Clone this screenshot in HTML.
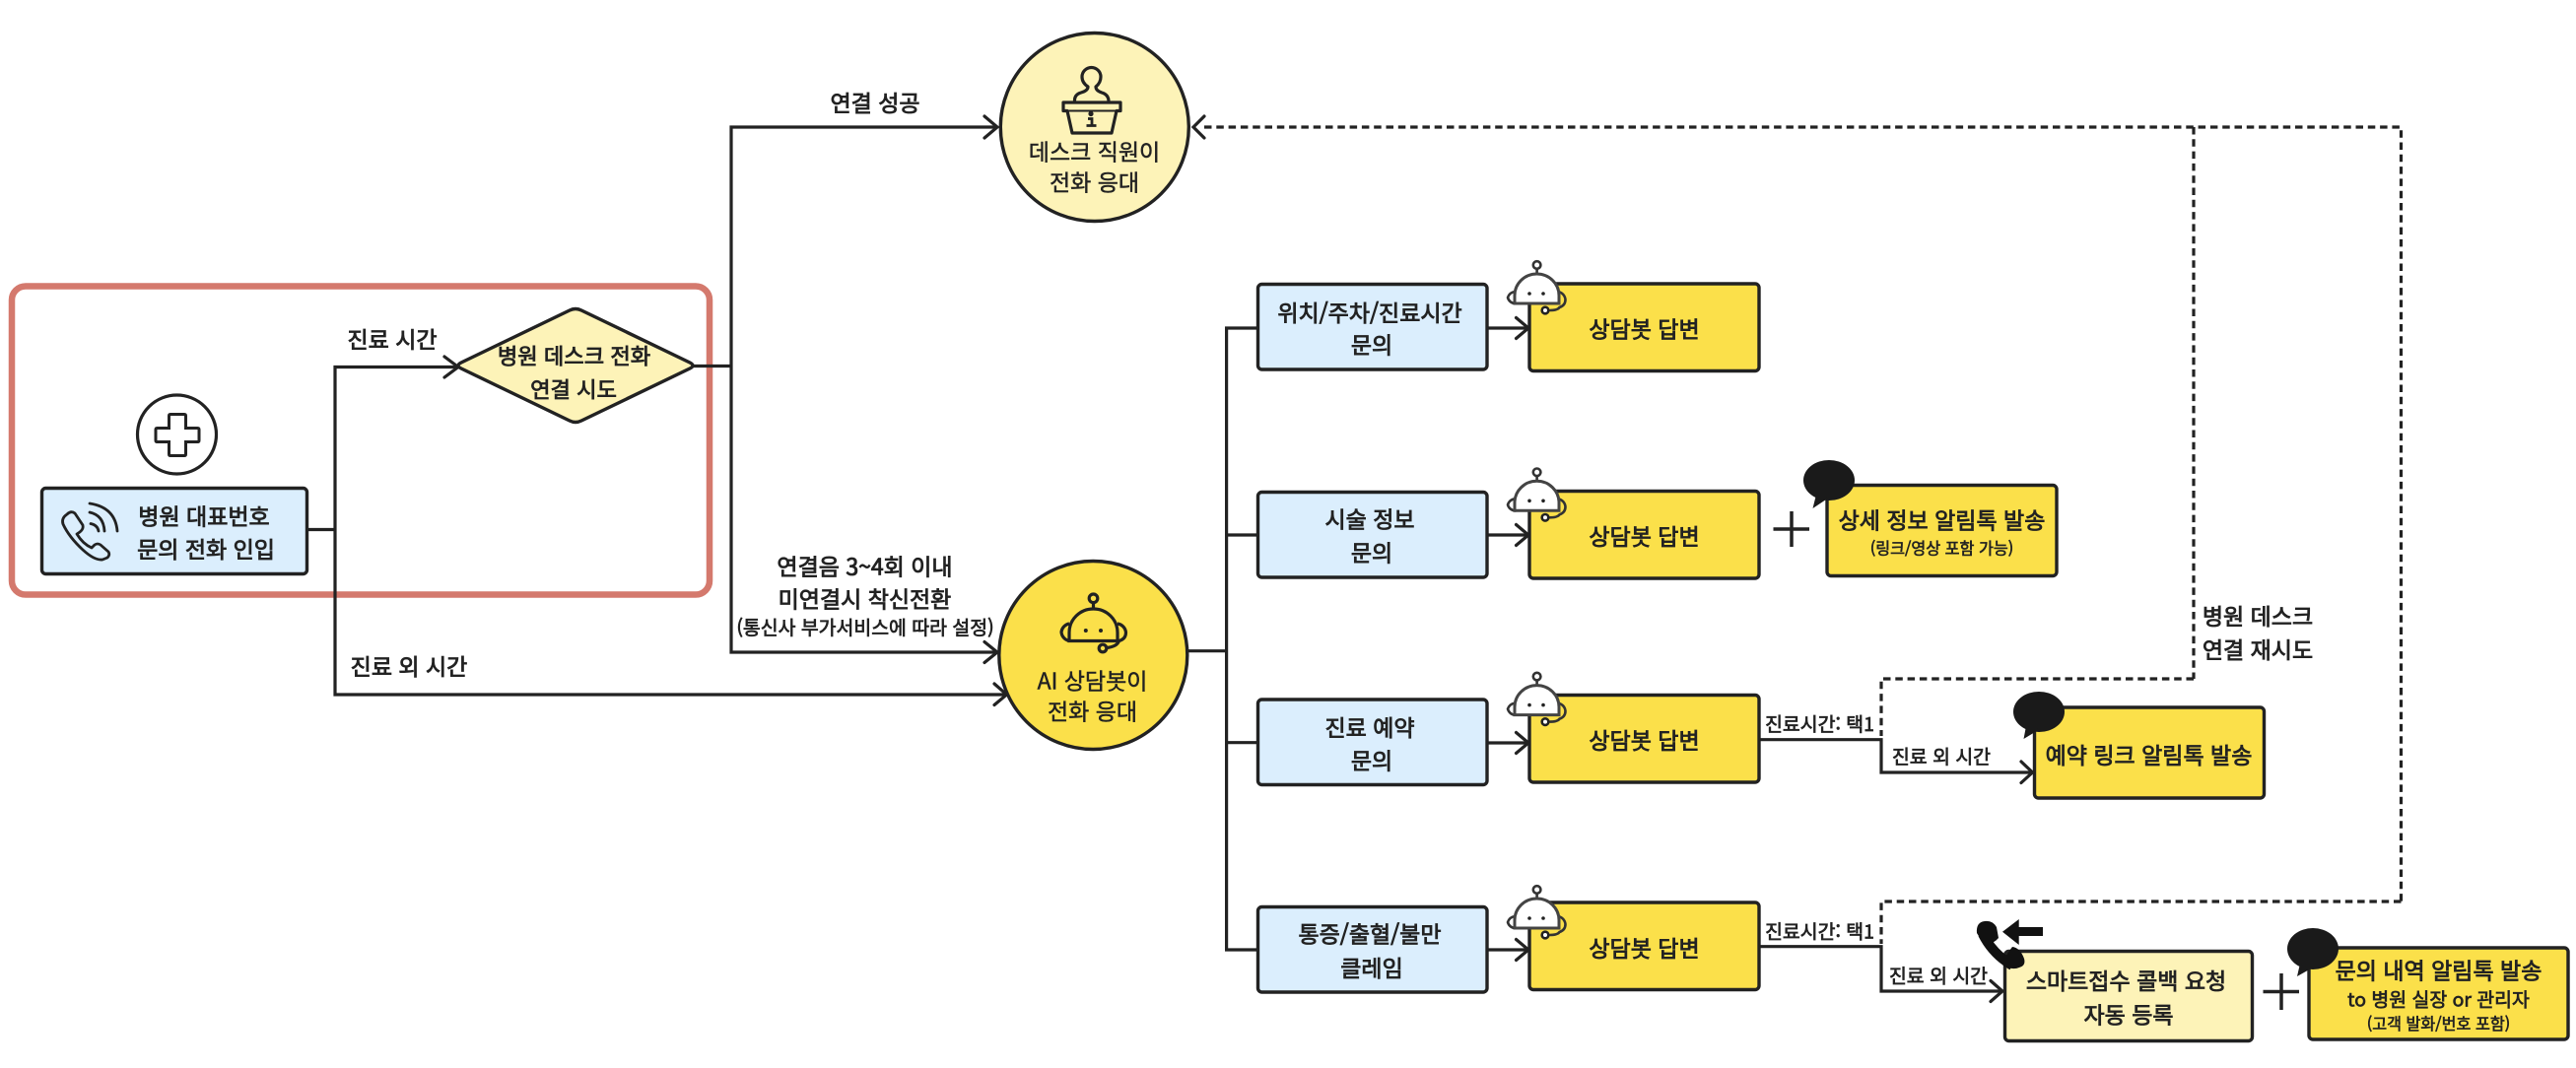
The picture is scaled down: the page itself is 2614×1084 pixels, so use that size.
<!DOCTYPE html>
<html lang="ko"><head><meta charset="utf-8"><title>Hospital call flow</title>
<style>
html,body{margin:0;padding:0;background:#fff;width:2614px;height:1084px;overflow:hidden}
svg{display:block}
text{font-family:"Liberation Sans","Noto Sans CJK KR",sans-serif;fill:#222;text-anchor:middle}
.h{font-family:"Noto Sans CJK KR","Liberation Sans",sans-serif;font-size:23px;font-weight:400;stroke:#222;stroke-width:.85px}
.dm{font-size:22.2px}
.s{font-family:"Noto Sans CJK KR","Liberation Sans",sans-serif;font-size:19.4px;font-weight:400;stroke:#222;stroke-width:.7px}
.t{font-family:"Noto Sans CJK KR","Liberation Sans",sans-serif;font-size:16.2px;font-weight:400;stroke:#222;stroke-width:.6px}
.r{font-family:"Noto Sans CJK KR","Liberation Sans",sans-serif;font-size:23px;font-weight:400;stroke:#222;stroke-width:.45px}
.l{fill:none;stroke:#222;stroke-width:3.2}
.a{fill:none;stroke:#222;stroke-width:3.2;stroke-linecap:round;stroke-linejoin:miter}
.d{fill:none;stroke:#222;stroke-width:3.2;stroke-dasharray:7.5 4.8}
.blue{fill:#dbeefd;stroke:#222;stroke-width:3.4}
.yel{fill:#fbe04a;stroke:#222;stroke-width:3.4}
.cream{fill:#fdf3b8;stroke:#222;stroke-width:3.4}
</style></head><body>
<svg width="2614" height="1084" viewBox="0 0 2614 1084" xmlns="http://www.w3.org/2000/svg">
<defs>
<g id="bot">
  <circle cx="1559.6" cy="269" r="3.8" fill="#fff" stroke="#333" stroke-width="2.6"/>
  <path d="M1559.6 273V279" stroke="#333" stroke-width="2.6" fill="none"/>
  <path d="M1537 296a9 9 0 0 0 -7 6a8 8 0 0 0 7 6z" fill="#fff" stroke="#333" stroke-width="2.6"/>
  <path d="M1581 296a9 9 0 0 1 7.500 8q0 6 -6 8q-2 3 -10 3" fill="none" stroke="#333" stroke-width="2.6"/>
  <path d="M1537 308V300a22.500 22 0 0 1 45 0V308z" fill="#fff" stroke="#444" stroke-width="3"/>
  <circle cx="1552" cy="298" r="1.800" fill="#222"/><circle cx="1566" cy="298" r="1.800" fill="#222"/>
  <circle cx="1568" cy="315" r="3.300" fill="#fff" stroke="#222" stroke-width="2.6"/>
</g>
</defs>

<!-- highlight -->
<rect x="12" y="290.500" width="708" height="313" rx="14" fill="none" stroke="#d4796d" stroke-width="6.500"/>

<!-- connectors -->
<path class="l" d="M311 537.500H340M465 372.500H340V705H1021"/>
<path class="a" d="M451 362L465 372.500L451 383"/>
<path class="a" d="M1009 694L1021.500 705L1009 715.500"/>
<path class="l" d="M704 371.500H742M1012 129H742V662H1012"/>
<path class="a" d="M999 118L1012 129L999 140"/>
<path class="a" d="M999 651.500L1012 662L999 672.500"/>
<path class="l" d="M1206 660.700H1244.600M1275 333H1244.600V964H1275M1244.600 543H1275M1244.600 753.700H1275"/>
<path class="l" d="M1509 333H1550M1509 543H1550M1509 754H1550M1509 964H1550"/>
<path class="a" d="M1538.500 322.500L1551 333L1538.500 343.500"/>
<path class="a" d="M1538.500 532.500L1551 543L1538.500 553.500"/>
<path class="a" d="M1538.500 743.500L1551 754L1538.500 764.500"/>
<path class="a" d="M1538.500 953.500L1551 964L1538.500 974.500"/>
<path class="l" d="M1785 750.700H1909V784H2062"/>
<path class="a" d="M2051 773L2062.500 784L2051 794.500"/>
<path class="l" d="M1785 960.700H1909V1006H2032"/>
<path class="a" d="M2020 995.500L2032 1006L2020 1016.500"/>
<path class="d" d="M2226 689H1909V747"/>
<path class="d" d="M2436.500 915H1909V958"/>
<path class="d" d="M1222 129H2436.500V915"/>
<path class="d" d="M2226 129V689"/>
<path class="a" d="M1222 118L1211 129L1222 140"/>

<!-- left -->
<circle cx="179.500" cy="441" r="40" fill="#fff" stroke="#222" stroke-width="3.200"/>
<path d="M173 420.500h14q1.500 0 1.500 1.500v12.500h12q1.500 0 1.500 1.500v11q0 1.500 -1.500 1.500h-12v12.500q0 1.500 -1.500 1.500h-14q-1.500 0 -1.500 -1.500v-12.500h-12q-1.500 0 -1.500 -1.500v-11q0 -1.500 1.500 -1.500h12v-12.500q0 -1.500 1.500 -1.500z" fill="#fff" stroke="#222" stroke-width="3"/>
<rect class="blue" x="42.500" y="495.500" width="269" height="87" rx="4"/>
<g fill="none" stroke="#222" stroke-width="2.800" stroke-linecap="round" stroke-linejoin="round">
  <path d="M68 522Q72 518 76 521L84 533Q85 537 81 540L78 542Q84 552 93 556L96 553Q99 551 102 553L110 560Q112 563 109 566L104 568Q96 569 84 558Q70 545 64 532Q62 526 68 522Z"/>
  <path d="M91 511Q117 515 119 539M91 520Q105 523 106 539M92 531.500Q99 533 100 539"/>
</g>
<text class="h" x="207" y="532.500">병원 대표번호</text>
<text class="h" x="209" y="566">문의 전화 인입</text>
<path class="cream" d="M468 368L578 315Q584 312 590 315L700 368Q706 371 700 374L590 427Q584 430 578 427L468 374Q462 371 468 368Z"/>
<text class="h dm" x="582.500" y="369.500">병원 데스크 전화</text>
<text class="h dm" x="582" y="403.500">연결 시도</text>
<text class="h" x="398" y="353">진료 시간</text>
<text class="h" x="415" y="685">진료 외 시간</text>
<text class="h" x="888" y="113">연결 성공</text>
<text class="h" x="877.500" y="583.500">연결음 3~4회 이내</text>
<text class="h" x="877.500" y="616.500">미연결시 착신전환</text>
<text class="s" x="878" y="644">(통신사 부가서비스에 따라 설정)</text>

<!-- desk circle -->
<circle class="cream" cx="1110.800" cy="129" r="95.500"/>
<g fill="none" stroke="#222" stroke-width="3.200" stroke-linejoin="round">
  <path d="M1090.500 103Q1090 96 1097 94Q1104 92 1104 88Q1098 84 1098 78A9.500 9.500 0 0 1 1117 78Q1117 84 1112 88Q1112 92 1118 94Q1125 96 1125 103"/>
  <path d="M1079 104H1137V112.500H1133L1128 135H1088L1083 112.500H1079Z"/>
  <path d="M1083 112.500H1133" stroke-width="2"/>
</g>
<circle cx="1107" cy="115.500" r="2.600" fill="#222"/>
<path d="M1104 120.500H1108V127.500M1102.500 127.500H1112.500" fill="none" stroke="#222" stroke-width="2.800"/>
<text class="r" x="1110.500" y="162.500">데스크 직원이</text>
<text class="r" x="1110.500" y="193.500">전화 응대</text>

<!-- AI circle -->
<circle class="yel" cx="1109.300" cy="665" r="95.500"/>
<g fill="none" stroke="#222" stroke-width="3.200">
  <circle cx="1109.500" cy="607.300" r="4.300"/>
  <path d="M1109.500 612V618"/>
  <path d="M1085 650.500V642a24.500 24 0 0 1 49 0V650.500Z"/>
  <path d="M1085 633a10 10 0 0 0 -8 8.500a10 10 0 0 0 8 9M1134 633a10 10 0 0 1 8.500 9q0 6.500 -7 8.500q-2 6 -13 7"/>
  <circle cx="1119" cy="658" r="3.800"/>
</g>
<circle cx="1101.800" cy="640" r="2" fill="#222"/><circle cx="1117" cy="640" r="2" fill="#222"/>
<text class="r" x="1108.500" y="699.500">AI 상담봇이</text>
<text class="r" x="1108.500" y="730.500">전화 응대</text>

<!-- blue boxes -->
<rect class="blue" x="1276.500" y="288.500" width="232.500" height="86.500" rx="4"/>
<rect class="blue" x="1276.500" y="499.500" width="232.500" height="86.500" rx="4"/>
<rect class="blue" x="1276.500" y="710" width="232.500" height="86.500" rx="4"/>
<rect class="blue" x="1276.500" y="920.500" width="232.500" height="86.500" rx="4"/>
<text class="h" x="1390" y="326">위치/주차/진료시간</text>
<text class="h" x="1392" y="358.500">문의</text>
<text class="h" x="1390" y="535.500">시술 정보</text>
<text class="h" x="1392" y="569.500">문의</text>
<text class="h" x="1390" y="747">진료 예약</text>
<text class="h" x="1392" y="780.500">문의</text>
<text class="h" x="1390" y="956.500">통증/출혈/불만</text>
<text class="h" x="1392" y="991">클레임</text>

<!-- yellow answer boxes -->
<rect class="yel" x="1552" y="288" width="233" height="88.500" rx="4"/>
<rect class="yel" x="1552" y="498.500" width="233" height="88.500" rx="4"/>
<rect class="yel" x="1552" y="705.500" width="233" height="88.500" rx="4"/>
<rect class="yel" x="1552" y="916" width="233" height="88.500" rx="4"/>
<use href="#bot"/>
<use href="#bot" y="210.300"/>
<use href="#bot" y="417.600"/>
<use href="#bot" y="634"/>
<text class="h" x="1668.500" y="342.500">상담봇 답변</text>
<text class="h" x="1668.500" y="553">상담봇 답변</text>
<text class="h" x="1668.500" y="760">상담봇 답변</text>
<text class="h" x="1668.500" y="971">상담봇 답변</text>

<!-- detail box -->
<path d="M1799.500 537H1836M1818 519V555" stroke="#222" stroke-width="3.500" fill="none"/>
<rect class="yel" x="1854" y="492.500" width="233" height="92" rx="4"/>
<ellipse cx="1856" cy="487.500" rx="26" ry="20.500" fill="#1a1a1a"/>
<path d="M1843 502L1839.500 516L1856 505Z" fill="#1a1a1a"/>
<text class="h" x="1970.500" y="536.500">상세 정보 알림톡 발송</text>
<text class="t" x="1970.500" y="562.500">(링크/영상 포함 가능)</text>

<!-- booking -->
<text class="s" x="1846.500" y="742">진료시간: 택1</text>
<text class="s" x="1970" y="775">진료 외 시간</text>
<rect class="yel" x="2064.500" y="718" width="233" height="92" rx="4"/>
<ellipse cx="2069" cy="722.500" rx="26" ry="20.500" fill="#1a1a1a"/>
<path d="M2056 737L2053.500 750L2070 740Z" fill="#1a1a1a"/>
<text class="h" x="2180.500" y="775">예약 링크 알림톡 발송</text>
<text class="h" x="2291" y="634">병원 데스크</text>
<text class="h" x="2291" y="668">연결 재시도</text>

<!-- callback -->
<text class="s" x="1846.500" y="952.500">진료시간: 택1</text>
<text class="s" x="1967" y="997.500">진료 외 시간</text>
<rect class="cream" x="2034.500" y="965.500" width="251" height="91" rx="4"/>
<path d="M2012 948Q2022 968 2042 980" fill="none" stroke="#111" stroke-width="10"/>
<path d="M2006 947Q2005 936 2014 935Q2022 934 2026 941L2028 952Q2024 957 2014 960Z" fill="#111"/>
<path d="M2033 973L2042 961Q2050 962 2054 973Q2056 980 2049 982Q2042 985 2033 980Z" fill="#111"/>
<path d="M2032 945.700L2048.700 933V941H2073V950H2048.700V959Z" fill="#111"/>
<text class="h" x="2157.500" y="1004">스마트접수 콜백 요청</text>
<text class="h" x="2160" y="1038.500">자동 등록</text>
<path d="M2296.500 1006.500H2333M2315 988V1025" stroke="#222" stroke-width="3.500" fill="none"/>
<rect class="yel" x="2343" y="962" width="263" height="93" rx="4"/>
<ellipse cx="2347" cy="963" rx="26" ry="21" fill="#1a1a1a"/>
<path d="M2334 978L2331 991L2347 982Z" fill="#1a1a1a"/>
<text class="h" x="2474.500" y="993.500">문의 내역 알림톡 발송</text>
<text class="s" x="2474.500" y="1021.500">to 병원 실장 or 관리자</text>
<text class="t" x="2474.500" y="1045">(고객 발화/번호 포함)</text>
</svg>
</body></html>
